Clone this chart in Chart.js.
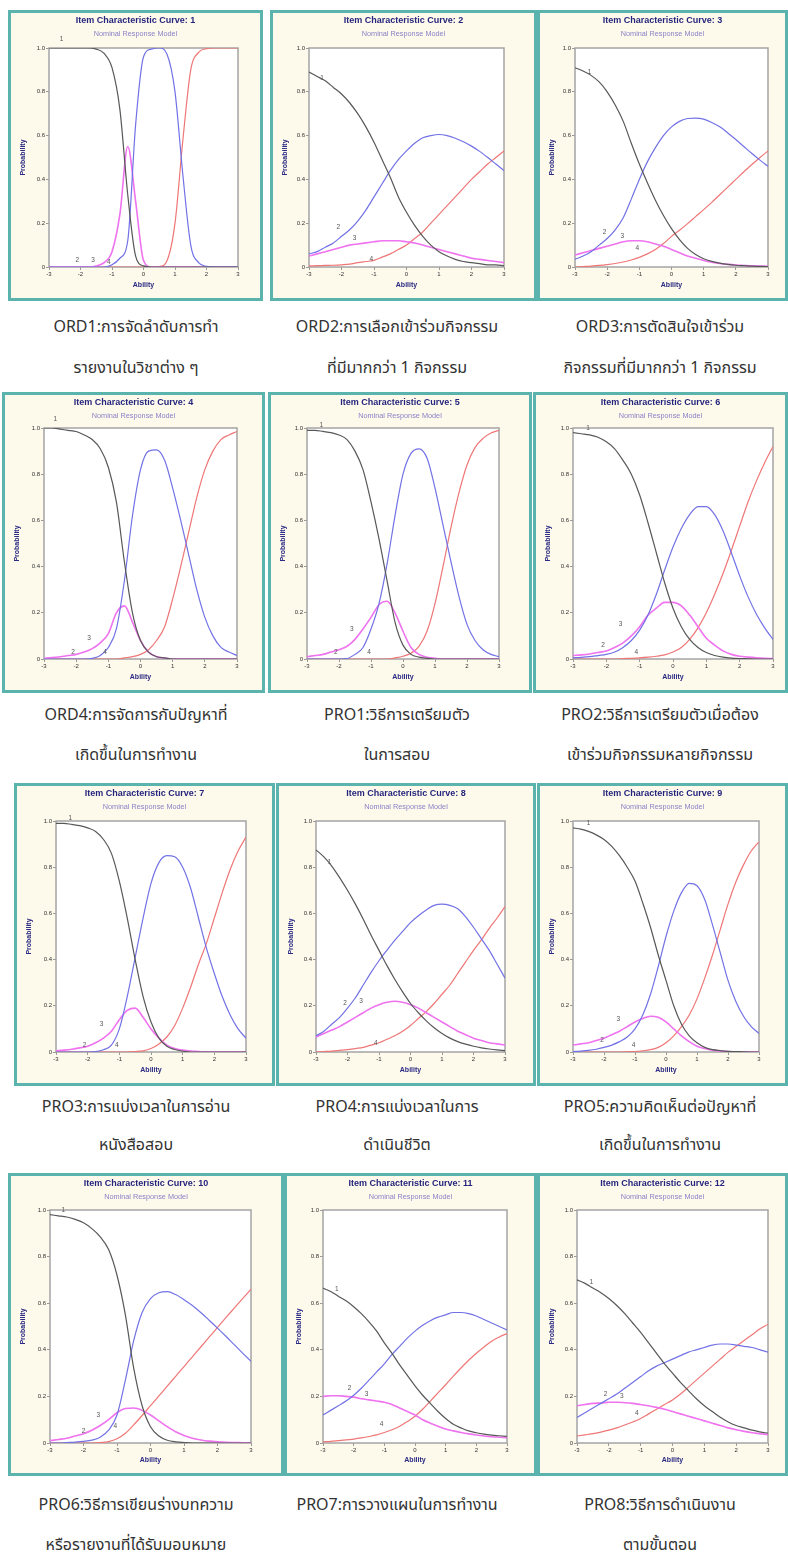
<!DOCTYPE html>
<html>
<head>
<meta charset="utf-8">
<script src="https://cdn.jsdelivr.net/npm/chart.js@4.4.1/dist/chart.umd.min.js"></script>
<style>
  body { margin: 0; width: 788px; height: 1564px; background: #fff; position: relative; overflow: hidden; }
  .panel { position: absolute; box-sizing: border-box; border: 3px solid #5ab3ad; background: #fdf9eb; }
  .panel canvas { display: block; }
  .cap { position: absolute; width: 300px; text-align: center; font-size: 16px; line-height: 22px; color: #333;
         font-family: "Noto Sans Thai", "Loma", "Garuda", "Tlwg Typo", "DejaVu Sans", sans-serif; white-space: nowrap; }
</style>
</head>
<body>
<script>
// ability grid, shared by every panel
var ability = [-3, -2.75, -2.5, -2.25, -2, -1.75, -1.5, -1.25, -1, -0.75, -0.5, -0.25, 0,
               0.25, 0.5, 0.75, 1, 1.25, 1.5, 1.75, 2, 2.25, 2.5, 2.75, 3];
var yTicks = [0, 0.2, 0.4, 0.6, 0.8, 1.0];
var xTicks = [-3, -2, -1, 0, 1, 2, 3];

// item 1 (ORD1)
var i1_c1 = [1,1,1,1,1,1,0.995,0.975,0.91,0.72,0.33,0.05,0.005,0,0,0,0,0,0,0,0,0,0,0,0];
var i1_c2 = [0,0,0,0,0,0,0,0,0.01,0.04,0.12,0.65,0.96,0.995,1,0.97,0.80,0.42,0.10,0.02,0.003,0,0,0,0];
var i1_c3 = [0,0,0,0,0,0,0.005,0.02,0.07,0.24,0.55,0.30,0.03,0,0,0,0,0,0,0,0,0,0,0,0];
var i1_c4 = [0,0,0,0,0,0,0,0,0,0,0,0,0,0,0.002,0.03,0.20,0.58,0.90,0.98,0.997,1,1,1,1];
// item 2 (ORD2)
var i2_c1 = [0.89,0.87,0.85,0.82,0.79,0.75,0.70,0.64,0.57,0.49,0.41,0.32,0.25,0.19,0.14,0.10,0.07,0.05,0.035,0.025,0.02,0.015,0.01,0.01,0.005];
var i2_c2 = [0.06,0.07,0.09,0.11,0.14,0.17,0.21,0.26,0.32,0.38,0.44,0.49,0.53,0.565,0.59,0.60,0.605,0.60,0.588,0.572,0.552,0.528,0.50,0.47,0.44];
var i2_c3 = [0.05,0.06,0.07,0.08,0.09,0.10,0.105,0.11,0.115,0.12,0.12,0.12,0.115,0.11,0.10,0.09,0.08,0.07,0.06,0.05,0.04,0.035,0.03,0.025,0.02];
var i2_c4 = [0.005,0.006,0.007,0.008,0.01,0.013,0.02,0.025,0.03,0.045,0.06,0.08,0.10,0.13,0.16,0.20,0.24,0.28,0.32,0.36,0.40,0.435,0.47,0.50,0.53];
// item 3 (ORD3)
var i3_c1 = [0.91,0.895,0.875,0.845,0.80,0.74,0.665,0.565,0.47,0.385,0.305,0.235,0.175,0.125,0.085,0.057,0.038,0.026,0.018,0.012,0.008,0.006,0.004,0.003,0.002];
var i3_c2 = [0.035,0.05,0.07,0.10,0.13,0.17,0.225,0.31,0.40,0.48,0.545,0.60,0.64,0.665,0.678,0.68,0.675,0.66,0.64,0.612,0.582,0.55,0.518,0.488,0.46];
var i3_c3 = [0.055,0.065,0.075,0.085,0.095,0.105,0.115,0.12,0.12,0.115,0.105,0.095,0.08,0.065,0.05,0.04,0.03,0.022,0.016,0.012,0.009,0.007,0.005,0.004,0.003];
var i3_c4 = [0,0.002,0.004,0.007,0.011,0.016,0.023,0.032,0.044,0.06,0.08,0.107,0.14,0.168,0.198,0.23,0.262,0.295,0.33,0.365,0.40,0.435,0.468,0.50,0.53];
// item 4 (ORD4)
var i4_c1 = [1,1,0.995,0.99,0.985,0.97,0.95,0.91,0.83,0.68,0.42,0.20,0.08,0.03,0.01,0.005,0,0,0,0,0,0,0,0,0];
var i4_c2 = [0,0,0,0,0,0,0.003,0.015,0.05,0.13,0.34,0.62,0.82,0.90,0.905,0.86,0.74,0.60,0.45,0.30,0.18,0.10,0.05,0.03,0.015];
var i4_c3 = [0.003,0.006,0.01,0.015,0.02,0.03,0.045,0.07,0.11,0.20,0.23,0.16,0.08,0.03,0.01,0.004,0,0,0,0,0,0,0,0,0];
var i4_c4 = [0,0,0,0,0,0,0,0,0,0,0.005,0.01,0.02,0.04,0.08,0.14,0.26,0.40,0.55,0.70,0.82,0.90,0.95,0.97,0.985];
// item 5 (PRO1)
var i5_c1 = [0.99,0.99,0.985,0.98,0.97,0.95,0.90,0.82,0.68,0.52,0.34,0.16,0.06,0.02,0.008,0.003,0,0,0,0,0,0,0,0,0];
var i5_c2 = [0,0,0,0,0,0.002,0.02,0.05,0.13,0.24,0.41,0.62,0.80,0.89,0.91,0.87,0.74,0.58,0.42,0.27,0.15,0.08,0.04,0.02,0.01];
var i5_c3 = [0.01,0.015,0.02,0.03,0.04,0.055,0.085,0.13,0.18,0.235,0.25,0.20,0.12,0.05,0.02,0.008,0.003,0,0,0,0,0,0,0,0];
var i5_c4 = [0,0,0,0,0,0,0,0,0,0,0,0.005,0.012,0.025,0.055,0.12,0.24,0.40,0.57,0.72,0.84,0.915,0.955,0.978,0.99];
// item 6 (PRO2)
var i6_c1 = [0.98,0.975,0.97,0.96,0.94,0.91,0.86,0.80,0.71,0.59,0.46,0.33,0.22,0.14,0.085,0.05,0.028,0.015,0.008,0.004,0.002,0.001,0,0,0];
var i6_c2 = [0.005,0.007,0.01,0.015,0.02,0.03,0.05,0.08,0.125,0.19,0.28,0.385,0.485,0.565,0.625,0.66,0.66,0.625,0.555,0.46,0.36,0.27,0.195,0.135,0.085];
var i6_c3 = [0.015,0.018,0.022,0.028,0.035,0.05,0.07,0.10,0.14,0.19,0.22,0.245,0.245,0.23,0.19,0.14,0.09,0.06,0.035,0.02,0.012,0.008,0.005,0.003,0.002];
var i6_c4 = [0,0,0,0,0,0,0.002,0.003,0.005,0.008,0.012,0.018,0.03,0.05,0.085,0.135,0.20,0.28,0.37,0.47,0.575,0.68,0.77,0.85,0.92];
// item 7 (PRO3)
var i7_c1 = [0.99,0.99,0.985,0.98,0.97,0.955,0.92,0.86,0.74,0.58,0.40,0.24,0.13,0.06,0.025,0.011,0.004,0,0,0,0,0,0,0,0];
var i7_c2 = [0,0,0,0,0,0.002,0.01,0.03,0.10,0.24,0.41,0.58,0.73,0.82,0.85,0.845,0.80,0.71,0.58,0.45,0.34,0.24,0.16,0.10,0.06];
var i7_c3 = [0.005,0.008,0.012,0.018,0.025,0.04,0.06,0.09,0.14,0.18,0.19,0.15,0.10,0.06,0.03,0.015,0.008,0.004,0.002,0,0,0,0,0,0];
var i7_c4 = [0,0,0,0,0,0,0,0,0,0,0.002,0.005,0.015,0.035,0.065,0.115,0.19,0.28,0.38,0.47,0.58,0.69,0.79,0.87,0.93];
// item 8 (PRO4)
var i8_c1 = [0.875,0.845,0.805,0.755,0.70,0.64,0.575,0.505,0.44,0.375,0.315,0.26,0.21,0.17,0.135,0.105,0.08,0.06,0.045,0.034,0.025,0.018,0.013,0.009,0.006];
var i8_c2 = [0.07,0.09,0.12,0.15,0.19,0.235,0.29,0.345,0.395,0.44,0.483,0.522,0.56,0.59,0.615,0.635,0.64,0.635,0.62,0.585,0.54,0.49,0.44,0.38,0.32];
var i8_c3 = [0.065,0.08,0.095,0.11,0.13,0.15,0.17,0.19,0.205,0.215,0.22,0.215,0.205,0.19,0.17,0.15,0.13,0.11,0.09,0.075,0.06,0.05,0.04,0.035,0.03];
var i8_c4 = [0,0.002,0.004,0.007,0.01,0.015,0.02,0.03,0.04,0.055,0.07,0.09,0.115,0.145,0.175,0.21,0.25,0.29,0.34,0.39,0.44,0.485,0.535,0.58,0.63];
// item 9 (PRO5)
var i9_c1 = [0.97,0.965,0.955,0.94,0.92,0.89,0.85,0.80,0.74,0.645,0.54,0.42,0.31,0.20,0.12,0.07,0.04,0.02,0.01,0.006,0.003,0.002,0.001,0,0];
var i9_c2 = [0.002,0.004,0.007,0.012,0.02,0.03,0.045,0.065,0.10,0.16,0.25,0.37,0.50,0.61,0.69,0.73,0.72,0.66,0.55,0.43,0.31,0.22,0.155,0.11,0.08];
var i9_c3 = [0.03,0.035,0.04,0.05,0.06,0.075,0.09,0.11,0.13,0.145,0.155,0.15,0.13,0.10,0.07,0.045,0.025,0.015,0.008,0.004,0.002,0.001,0,0,0];
var i9_c4 = [0,0,0,0,0,0,0,0.001,0.002,0.005,0.01,0.02,0.04,0.07,0.11,0.16,0.23,0.32,0.42,0.53,0.64,0.735,0.81,0.87,0.91];
// item 10 (PRO6)
var i10_c1 = [0.98,0.975,0.97,0.96,0.945,0.92,0.885,0.83,0.72,0.55,0.32,0.16,0.07,0.03,0.012,0.005,0.002,0,0,0,0,0,0,0,0];
var i10_c2 = [0,0,0.002,0.004,0.007,0.012,0.025,0.055,0.12,0.27,0.44,0.56,0.62,0.645,0.65,0.637,0.615,0.59,0.56,0.527,0.493,0.458,0.422,0.386,0.35];
var i10_c3 = [0.01,0.015,0.02,0.03,0.04,0.055,0.075,0.10,0.13,0.148,0.15,0.14,0.12,0.095,0.07,0.048,0.032,0.02,0.013,0.008,0.005,0.003,0.002,0.001,0];
var i10_c4 = [0,0,0,0,0,0,0.002,0.006,0.018,0.042,0.078,0.118,0.16,0.202,0.244,0.286,0.328,0.37,0.412,0.454,0.496,0.538,0.579,0.62,0.66];
// item 11 (PRO7)
var i11_c1 = [0.665,0.65,0.63,0.61,0.585,0.555,0.52,0.48,0.43,0.385,0.335,0.29,0.245,0.205,0.17,0.135,0.105,0.08,0.065,0.052,0.044,0.038,0.034,0.031,0.028];
var i11_c2 = [0.12,0.14,0.16,0.18,0.205,0.235,0.27,0.305,0.34,0.38,0.415,0.45,0.48,0.505,0.525,0.54,0.55,0.56,0.56,0.555,0.545,0.53,0.515,0.50,0.485];
var i11_c3 = [0.20,0.203,0.203,0.20,0.197,0.19,0.185,0.18,0.175,0.165,0.15,0.135,0.12,0.10,0.085,0.072,0.06,0.052,0.045,0.039,0.034,0.03,0.027,0.025,0.023];
var i11_c4 = [0.005,0.007,0.01,0.013,0.017,0.022,0.028,0.035,0.045,0.057,0.072,0.092,0.115,0.145,0.18,0.215,0.25,0.287,0.322,0.355,0.385,0.412,0.437,0.455,0.47];
// item 12 (PRO8)
var i12_c1 = [0.70,0.685,0.665,0.645,0.62,0.59,0.555,0.515,0.475,0.43,0.385,0.34,0.30,0.26,0.225,0.19,0.16,0.135,0.11,0.09,0.075,0.065,0.055,0.048,0.042];
var i12_c2 = [0.11,0.13,0.15,0.17,0.19,0.21,0.235,0.26,0.285,0.31,0.33,0.345,0.36,0.375,0.39,0.40,0.41,0.42,0.425,0.425,0.42,0.415,0.41,0.40,0.39];
var i12_c3 = [0.16,0.165,0.17,0.172,0.175,0.175,0.173,0.17,0.165,0.16,0.153,0.145,0.135,0.125,0.115,0.105,0.095,0.085,0.075,0.065,0.057,0.05,0.044,0.04,0.036];
var i12_c4 = [0.03,0.035,0.04,0.047,0.055,0.065,0.077,0.09,0.105,0.125,0.145,0.165,0.185,0.21,0.24,0.27,0.30,0.33,0.36,0.39,0.415,0.44,0.465,0.49,0.51];

// where the category numbers sit on each plot [ability, probability]
var i1_marks  = [[-2.6,1.04],[-2.1,0.03],[-1.6,0.03],[-1.1,0.02]];
var i2_marks  = [[-2.6,0.86],[-2.1,0.18],[-1.6,0.13],[-1.08,0.035]];
var i3_marks  = [[-2.55,0.89],[-2.08,0.16],[-1.53,0.14],[-1.06,0.085]];
var i4_marks  = [[-2.65,1.04],[-2.1,0.03],[-1.6,0.09],[-1.1,0.03]];
var i5_marks  = [[-2.55,1.01],[-2.1,0.03],[-1.6,0.13],[-1.06,0.03]];
var i6_marks  = [[-2.55,1.0],[-2.1,0.06],[-1.57,0.15],[-1.1,0.03]];
var i7_marks  = [[-2.55,1.01],[-2.1,0.03],[-1.56,0.12],[-1.08,0.03]];
var i8_marks  = [[-2.57,0.82],[-2.08,0.21],[-1.57,0.22],[-1.1,0.04]];
var i9_marks  = [[-2.5,0.99],[-2.06,0.05],[-1.54,0.14],[-1.05,0.03]];
var i10_marks = [[-2.6,1.0],[-2.0,0.05],[-1.56,0.12],[-1.05,0.07]];
var i11_marks = [[-2.55,0.66],[-2.13,0.235],[-1.58,0.21],[-1.09,0.08]];
var i12_marks = [[-2.55,0.69],[-2.1,0.21],[-1.59,0.20],[-1.12,0.13]];

var captions = [
  ["ORD1:การจัดลำดับการทำ", "รายงานในวิชาต่าง ๆ"],
  ["ORD2:การเลือกเข้าร่วมกิจกรรม", "ที่มีมากกว่า 1 กิจกรรม"],
  ["ORD3:การตัดสินใจเข้าร่วม", "กิจกรรมที่มีมากกว่า 1 กิจกรรม"],
  ["ORD4:การจัดการกับปัญหาที่", "เกิดขึ้นในการทำงาน"],
  ["PRO1:วิธีการเตรียมตัว", "ในการสอบ"],
  ["PRO2:วิธีการเตรียมตัวเมื่อต้อง", "เข้าร่วมกิจกรรมหลายกิจกรรม"],
  ["PRO3:การแบ่งเวลาในการอ่าน", "หนังสือสอบ"],
  ["PRO4:การแบ่งเวลาในการ", "ดำเนินชีวิต"],
  ["PRO5:ความคิดเห็นต่อปัญหาที่", "เกิดขึ้นในการทำงาน"],
  ["PRO6:วิธีการเขียนร่างบทความ", "หรือรายงานที่ได้รับมอบหมาย"],
  ["PRO7:การวางแผนในการทำงาน"],
  ["PRO8:วิธีการดำเนินงาน", "ตามขั้นตอน"]
];

var items = [
  [i1_c1, i1_c2, i1_c3, i1_c4], [i2_c1, i2_c2, i2_c3, i2_c4], [i3_c1, i3_c2, i3_c3, i3_c4],
  [i4_c1, i4_c2, i4_c3, i4_c4], [i5_c1, i5_c2, i5_c3, i5_c4], [i6_c1, i6_c2, i6_c3, i6_c4],
  [i7_c1, i7_c2, i7_c3, i7_c4], [i8_c1, i8_c2, i8_c3, i8_c4], [i9_c1, i9_c2, i9_c3, i9_c4],
  [i10_c1, i10_c2, i10_c3, i10_c4], [i11_c1, i11_c2, i11_c3, i11_c4], [i12_c1, i12_c2, i12_c3, i12_c4]
];
var marks = [i1_marks, i2_marks, i3_marks, i4_marks, i5_marks, i6_marks,
             i7_marks, i8_marks, i9_marks, i10_marks, i11_marks, i12_marks];

// page layout: panel box (l,t,w,h) and plot area (x0..x1, y0..y1), caption centre
var rows = [
  { t: 10,   h: 291, y0: 48,   y1: 267,  cap: [327, 368] },
  { t: 392,  h: 301, y0: 428,  y1: 659,  cap: [715, 755] },
  { t: 783,  h: 303, y0: 821,  y1: 1052, cap: [1107, 1145] },
  { t: 1173, h: 303, y0: 1210, y1: 1443, cap: [1505, 1545] }
];
var cols = [
  [{ l: 8, w: 255, x0: 49, x1: 238 },  { l: 270, w: 267, x0: 309, x1: 504 }, { l: 537, w: 251, x0: 575, x1: 768 }],
  [{ l: 2, w: 263, x0: 44, x1: 237 },  { l: 268, w: 264, x0: 307, x1: 499 }, { l: 533, w: 255, x0: 573, x1: 773 }],
  [{ l: 14, w: 261, x0: 56, x1: 246 }, { l: 276, w: 260, x0: 316, x1: 505 }, { l: 537, w: 251, x0: 573, x1: 759 }],
  [{ l: 8, w: 276, x0: 50, x1: 251 },  { l: 284, w: 253, x0: 323, x1: 507 }, { l: 537, w: 251, x0: 577, x1: 768 }]
];
var capX = [136, 397, 660];

var lineColors = ["#585858", "#7272e6", "#ef72ef", "#ef7676"];
var FONT = '"Liberation Sans", Arial, sans-serif';
Chart.defaults.font.family = FONT;

var iccPlugin = {
  id: "icc",
  beforeDraw: function (chart) {
    var a = chart.chartArea, ctx = chart.ctx;
    ctx.save();
    ctx.fillStyle = "#ffffff";
    ctx.fillRect(a.left, a.top, a.right - a.left, a.bottom - a.top);
    ctx.restore();
  },
  beforeDatasetsDraw: function (chart) {
    var a = chart.chartArea, ctx = chart.ctx;
    ctx.save();
    ctx.strokeStyle = "#a4a4a4";
    ctx.lineWidth = 1.5;
    ctx.strokeRect(a.left, a.top, a.right - a.left, a.bottom - a.top);
    ctx.restore();
  },
  afterDraw: function (chart, args, opts) {
    var ctx = chart.ctx, x = chart.scales.x, y = chart.scales.y;
    ctx.save();
    ctx.textAlign = "center";
    ctx.textBaseline = "middle";
    ctx.fillStyle = "#25257d";
    ctx.font = "bold 9px " + FONT;
    ctx.fillText(opts.title, chart.width / 2, 8);
    ctx.fillStyle = "#8c82c8";
    ctx.font = "7.3px " + FONT;
    ctx.fillText("Nominal Response Model", chart.width / 2, 21);
    ctx.fillStyle = "#555";
    ctx.font = "6.5px " + FONT;
    opts.marks.forEach(function (m, k) {
      ctx.fillText(String(k + 1), x.getPixelForValue(m[0]), y.getPixelForValue(m[1]));
    });
    ctx.restore();
  }
};

function drawPanel(n, row, col) {
  var p = Object.assign({}, row, col);
  var div = document.createElement("div");
  div.className = "panel";
  div.style.left = p.l + "px";
  div.style.top = p.t + "px";
  div.style.width = p.w + "px";
  div.style.height = p.h + "px";
  var cw = p.w - 6, ch = p.h - 6;
  var cv = document.createElement("canvas");
  cv.width = cw; cv.height = ch;
  cv.style.width = cw + "px"; cv.style.height = ch + "px";
  div.appendChild(cv);
  document.body.appendChild(div);

  var ox = p.l + 3, oy = p.t + 3;
  var padL = p.x0 - ox, padT = p.y0 - oy, padR = ox + cw - p.x1, padB = oy + ch - p.y1;

  var datasets = items[n].map(function (vals, k) {
    return {
      data: ability.map(function (a, j) { return { x: a, y: vals[j] }; }),
      borderColor: lineColors[k],
      borderWidth: k === 2 ? 1.6 : 1.2,
      pointRadius: 0,
      fill: false,
      cubicInterpolationMode: "monotone"
    };
  });

  new Chart(cv, {
    type: "line",
    data: { datasets: datasets },
    options: {
      responsive: false,
      animation: false,
      devicePixelRatio: 1,
      layout: { padding: { top: padT, right: padR, left: 0, bottom: 0 } },
      plugins: {
        legend: { display: false },
        tooltip: { enabled: false },
        icc: { title: "Item Characteristic Curve: " + (n + 1), marks: marks[n] }
      },
      scales: {
        x: {
          type: "linear", min: -3, max: 3,
          afterBuildTicks: function (s) { s.ticks = xTicks.map(function (v) { return { value: v }; }); },
          ticks: { font: { size: 6 }, color: "#333", padding: 1, maxRotation: 0 },
          grid: { drawOnChartArea: false, tickLength: 3, color: "#999" },
          border: { display: false },
          title: { display: true, text: "Ability", color: "#2b2b84", font: { size: 7, weight: "bold" }, padding: { top: 0, bottom: 9 } },
          afterFit: function (s) { s.height = padB; }
        },
        y: {
          min: 0, max: 1,
          afterBuildTicks: function (s) { s.ticks = yTicks.map(function (v) { return { value: v }; }); },
          ticks: { font: { size: 6 }, color: "#333", padding: 1,
                   callback: function (v) { return v === 0 ? "0" : v.toFixed(1); } },
          grid: { drawOnChartArea: false, tickLength: 3, color: "#999" },
          border: { display: false },
          title: { display: true, text: "Probability", color: "#2b2b84", font: { size: 7, weight: "bold" }, padding: { top: 8, bottom: 0 } },
          afterFit: function (s) { s.width = padL; }
        }
      }
    },
    plugins: [iccPlugin]
  });
}

function drawCaption(lines, cx, cys) {
  lines.forEach(function (txt, k) {
    var d = document.createElement("div");
    d.className = "cap";
    d.style.left = (cx - 150) + "px";
    d.style.top = (cys[k] - 11) + "px";
    d.textContent = txt;
    document.body.appendChild(d);
  });
}

rows.forEach(function (row, r) {
  cols[r].forEach(function (col, c) {
    var n = r * 3 + c;
    drawPanel(n, row, col);
    drawCaption(captions[n], capX[c], row.cap);
  });
});
</script>
</body>
</html>
